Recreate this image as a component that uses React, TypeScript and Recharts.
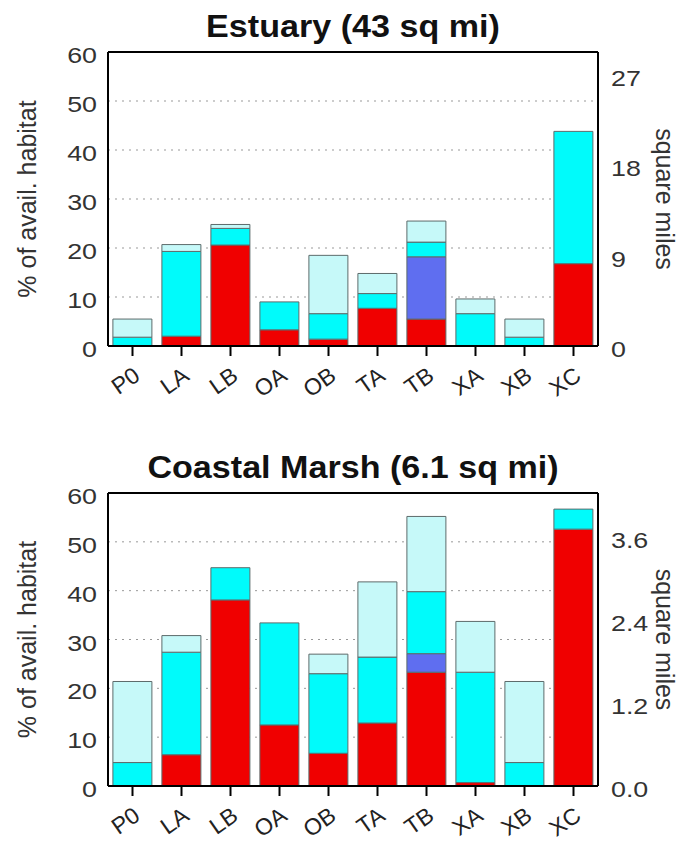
import React from 'react';
import { BarChart, Bar, XAxis, YAxis, CartesianGrid, ReferenceLine } from 'recharts';

// habitat classes along the x axis
const categories = ['P0', 'LA', 'LB', 'OA', 'OB', 'TA', 'TB', 'XA', 'XB', 'XC'];

// Estuary, % of available habitat per stacked band
const estuaryRed = [0, 2.0, 20.6, 3.3, 1.4, 7.7, 5.5, 0, 0, 16.8];
const estuaryBlue = [0, 0, 0, 0, 0, 0, 12.7, 0, 0, 0];
const estuaryCyan = [1.8, 17.3, 3.4, 5.7, 5.2, 3.0, 3.0, 6.6, 1.8, 27.0];
const estuaryLight = [3.7, 1.4, 0.8, 0, 11.9, 4.1, 4.3, 3.0, 3.7, 0];

// Coastal marsh, % of available habitat per stacked band
const marshRed = [0, 6.4, 38.1, 12.5, 6.7, 12.9, 23.3, 0.7, 0, 52.6];
const marshBlue = [0, 0, 0, 0, 0, 0, 3.8, 0, 0, 0];
const marshCyan = [4.8, 21.0, 6.6, 20.9, 16.3, 13.5, 12.7, 22.6, 4.8, 4.1];
const marshLight = [16.6, 3.4, 0, 0, 4.0, 15.4, 15.4, 10.4, 16.6, 0];

const percentTicks = [0, 10, 20, 30, 40, 50, 60];
const estuaryMileTicks = [0, 9, 18, 27];
const marshMileTicks = [0, 1.2, 2.4, 3.6];

const FONT = '"Liberation Sans", Arial, Helvetica, sans-serif';
const RED = '#f00000';
const BLUE = '#5f6ef0';
const CYAN = '#00fbfb';
const LIGHT = '#c6f9f9';
const OUTLINE = '#5d6b6b';

const buildRows = (red: number[], blue: number[], cyan: number[], light: number[]) =>
  categories.map((name, i) => ({ name, red: red[i], blue: blue[i], cyan: cyan[i], light: light[i] }));

// numeric tick, a bit wider than the plain font
const NumberTick = ({ x, y, payload, anchor, fmt }: any) => {
  const tx = anchor === 'end' ? x - 3 : x + 5;
  return (
    <g transform={`translate(${tx},${y}) scale(1.22,1)`}>
      <text x={0} y={0} dy={11} textAnchor={anchor} fontSize={22} fill="#333" fontFamily={FONT}>
        {fmt ? fmt(payload.value) : payload.value}
      </text>
    </g>
  );
};

const CategoryTick = ({ x, y, payload }: any) => {
  const ax = x + 9;
  const ay = y + 21;
  return (
    <text
      x={ax}
      y={ay}
      textAnchor="end"
      transform={`rotate(-35, ${ax}, ${ay})`}
      fontSize={23}
      fill="#222"
      fontFamily={FONT}
    >
      {payload.value}
    </text>
  );
};

interface PanelProps {
  title: string;
  rows: any[];
  top: number;
  height: number;
  plotTop: number;
  plotBottom: number;
  rightMax: number;
  rightTicks: number[];
  rightFmt?: (v: number) => string;
}

const HabitatPanel = ({ title, rows, top, height, plotTop, plotBottom, rightMax, rightTicks, rightFmt }: PanelProps) => {
  const cy = (plotTop + plotBottom) / 2;
  return (
    <div style={{ position: 'absolute', left: 0, top, width: 692, height }}>
      <div
        style={{
          position: 'absolute',
          left: 108,
          width: 490,
          top: plotTop - 41,
          textAlign: 'center',
          fontFamily: FONT,
          fontWeight: 'bold',
          fontSize: 31,
          lineHeight: '31px',
          color: '#111',
          transform: 'scaleX(1.1)',
        }}
      >
        {title}
      </div>
      <BarChart
        width={692}
        height={height}
        data={rows}
        margin={{ top: plotTop, right: 0, bottom: 0, left: 0 }}
        barCategoryGap="10%"
      >
        <CartesianGrid vertical={false} stroke="#999" strokeDasharray="2 5" />
        <XAxis
          dataKey="name"
          interval={0}
          height={height - plotBottom}
          tickSize={10}
          tickLine={{ stroke: '#000', strokeWidth: 2 }}
          axisLine={{ stroke: '#000', strokeWidth: 2 }}
          tick={<CategoryTick />}
        />
        <YAxis
          domain={[0, 60]}
          ticks={percentTicks}
          width={108}
          tickLine={false}
          axisLine={{ stroke: '#000', strokeWidth: 2 }}
          tick={<NumberTick anchor="end" />}
          label={() => (
            <text
              x={27}
              y={cy}
              transform={`rotate(-90, 27, ${cy})`}
              textAnchor="middle"
              dominantBaseline="central"
              fontSize={25}
              fill="#333"
              fontFamily={FONT}
            >
              % of avail. habitat
            </text>
          )}
        />
        <YAxis
          yAxisId="right"
          orientation="right"
          domain={[0, rightMax]}
          ticks={rightTicks}
          allowDataOverflow
          width={94}
          tickLine={false}
          axisLine={{ stroke: '#000', strokeWidth: 2 }}
          tick={<NumberTick anchor="start" fmt={rightFmt} />}
          label={() => (
            <text
              x={665}
              y={cy}
              transform={`rotate(90, 665, ${cy})`}
              textAnchor="middle"
              dominantBaseline="central"
              fontSize={25}
              fill="#333"
              fontFamily={FONT}
            >
              square miles
            </text>
          )}
        />
        <Bar dataKey="red" stackId="s" fill={RED} stroke={OUTLINE} strokeWidth={1} isAnimationActive={false} />
        <Bar dataKey="blue" stackId="s" fill={BLUE} stroke={OUTLINE} strokeWidth={1} isAnimationActive={false} />
        <Bar dataKey="cyan" stackId="s" fill={CYAN} stroke={OUTLINE} strokeWidth={1} isAnimationActive={false} />
        <Bar dataKey="light" stackId="s" fill={LIGHT} stroke={OUTLINE} strokeWidth={1} isAnimationActive={false} />
        {/* top edge of the frame */}
        <ReferenceLine y={60} stroke="#000" strokeWidth={2} />
      </BarChart>
    </div>
  );
};

export default function App() {
  return (
    <div style={{ position: 'absolute', left: 0, top: 0, width: 692, height: 843, background: '#fff' }}>
      <HabitatPanel
        title="Estuary (43 sq mi)"
        rows={buildRows(estuaryRed, estuaryBlue, estuaryCyan, estuaryLight)}
        top={0}
        height={420}
        plotTop={52}
        plotBottom={346}
        rightMax={29.3}
        rightTicks={estuaryMileTicks}
      />
      <HabitatPanel
        title="Coastal Marsh (6.1 sq mi)"
        rows={buildRows(marshRed, marshBlue, marshCyan, marshLight)}
        top={440}
        height={403}
        plotTop={53}
        plotBottom={346}
        rightMax={4.23}
        rightTicks={marshMileTicks}
        rightFmt={(v: number) => v.toFixed(1)}
      />
    </div>
  );
}
